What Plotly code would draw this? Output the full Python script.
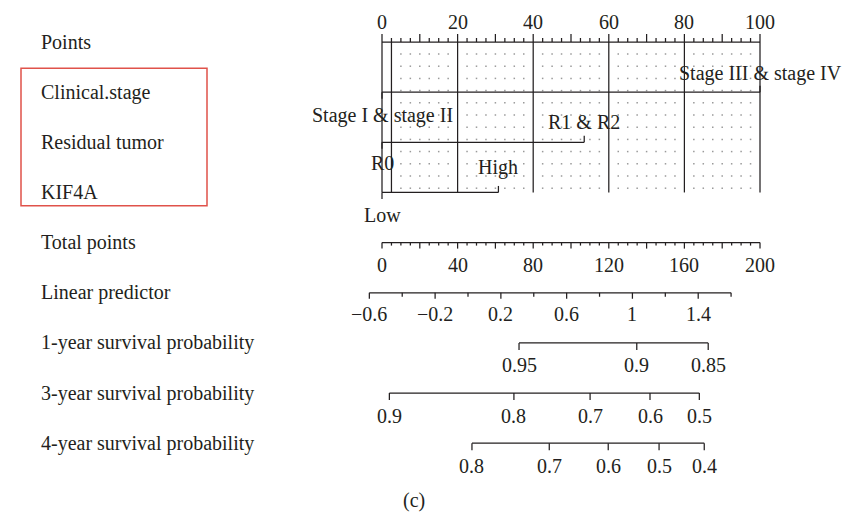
import numpy as np
import plotly.graph_objects as go

# ---------------- nomogram content ----------------
row_labels = ["Points", "Clinical.stage", "Residual tumor", "KIF4A", "Total points",
              "Linear predictor", "1-year survival probability",
              "3-year survival probability", "4-year survival probability"]

points_ticks = [0, 20, 40, 60, 80, 100]

stage_levels = ["Stage I & stage II", "Stage III & stage IV"]
stage_points = [0, 100]
residual_levels = ["R0", "R1 & R2"]
residual_points = [0, 53.5]
kif4a_levels = ["Low", "High"]
kif4a_points = [0, 30.8]

total_ticks = [0, 40, 80, 120, 160, 200]

lp_labels = [-0.6, -0.2, 0.2, 0.6, 1, 1.4]
lp_all_ticks = [-0.6, -0.4, -0.2, 0.0, 0.2, 0.4, 0.6, 0.8, 1.0, 1.2, 1.4, 1.6]
lp_intercept = 45.5   # total points at linear predictor 0
lp_slope = 87.0       # total points per unit of linear predictor

surv1_labels = ["0.95", "0.9", "0.85"]
surv1_total = [72.5, 134.8, 172.6]
surv3_labels = ["0.9", "0.8", "0.7", "0.6", "0.5"]
surv3_total = [3.9, 69.8, 110.1, 141.8, 167.9]
surv4_labels = ["0.8", "0.7", "0.6", "0.5", "0.4"]
surv4_total = [47.6, 88.5, 119.7, 146.6, 170.5]

# ---------------- layout constants ----------------
W, H = 848, 515
PX0 = 382.0          # pixel position of 0 points
PX_PER_PT = 3.78     # pixels per point
ROW_Y0, ROW_STEP = 42.0, 50.15
FONT = "Liberation Serif"
INK = "#231f20"
LW = 1.25
TXT_DY = 0.0

row_y = [ROW_Y0 + ROW_STEP * i for i in range(len(row_labels))]


def pt_of_total(tp):
    return tp / 2.0


def pt_of_lp(lp):
    return pt_of_total(lp_intercept + lp_slope * lp)


def fmt_lp(v):
    s = f"{v:g}"
    return s.replace("-", "\u2212")


seg_x, seg_y = [], []


def seg(x0, y0, x1, y1):
    seg_x.extend([x0, x1, None])
    seg_y.extend([y0, y1, None])


annotations = []


def label(x, y, text, anchor="center"):
    annotations.append(dict(x=x, y=y + TXT_DY, xref="x", yref="y", text=text,
                            showarrow=False, xanchor=anchor, yanchor="middle",
                            font=dict(family=FONT, size=20, color=INK)))


# row titles on the left
x_left = (38.5 - PX0) / PX_PER_PT
for name, y in zip(row_labels, row_y):
    label(x_left, y, name, anchor="left")

# Points scale (ticks point upward)
y = row_y[0]
seg(0, y, 100, y)
for v in np.arange(0, 100.01, 2.5):
    ln = 8 if abs(v % 10) < 1e-9 else 4
    seg(v, y, v, y - ln)
for v in points_ticks:
    label(v, y - 20.3, str(v))

# vertical reference lines through the predictor rows
y_bottom = row_y[3]
for v in [0, 2.5, 20, 40, 60, 80, 100]:
    seg(v, y, v, y_bottom)

# dotted minor grid
dot_cols = [v for v in np.arange(5, 100, 2.5) if abs(v % 20) > 1e-9]
dot_rows = [54 + 12.2 * k for k in range(12)]
dx = [c for c in dot_cols for _ in dot_rows]
dy = [r for _ in dot_cols for r in dot_rows]


def predictor(levels, pts, y, offsets):
    seg(min(pts), y, max(pts), y)
    for lv, p, off in zip(levels, pts, offsets):
        direction = -1 if off < 0 else 1
        seg(p, y, p, y + 6.5 * direction)
        label(p, y + off, lv)


predictor(stage_levels, stage_points, row_y[1], [23, -18.8])
predictor(residual_levels, residual_points, row_y[2], [21, -20.6])
predictor(kif4a_levels, kif4a_points, row_y[3], [22.5, -24.5])

# Total points scale (ticks hang down)
y = row_y[4]
seg(0, y, 100, y)
for v in np.arange(0, 200.01, 5):
    ln = 6 if abs(v % 20) < 1e-9 else 3
    seg(pt_of_total(v), y, pt_of_total(v), y + ln)
for v in total_ticks:
    label(pt_of_total(v), y + 22.4, str(v))

# Linear predictor scale
y = row_y[5]
seg(pt_of_lp(lp_all_ticks[0]), y, pt_of_lp(lp_all_ticks[-1]), y)
for v in lp_all_ticks:
    labelled = any(abs(v - l) < 1e-9 for l in lp_labels)
    ln = 6 if labelled else 4
    seg(pt_of_lp(v), y, pt_of_lp(v), y + ln)
for v in lp_labels:
    label(pt_of_lp(v), y + 21, fmt_lp(v))

# survival probability scales
for labs, tots, y, off in [(surv1_labels, surv1_total, row_y[6], 22),
                           (surv3_labels, surv3_total, row_y[7], 23),
                           (surv4_labels, surv4_total, row_y[8], 23)]:
    xs = [pt_of_total(t) for t in tots]
    seg(min(xs), y, max(xs), y)
    for xv, lab in zip(xs, labs):
        seg(xv, y, xv, y + 7)
        label(xv, y + off, lab)

# panel tag
label((414 - PX0) / PX_PER_PT, 500, "(c)")

fig = go.Figure()
fig.add_trace(go.Scatter(x=dx, y=dy, mode="markers",
                         marker=dict(symbol="square", size=1.5, color="#9a9a9a",
                                     line=dict(width=0)),
                         hoverinfo="skip"))
fig.add_trace(go.Scatter(x=seg_x, y=seg_y, mode="lines",
                         line=dict(color=INK, width=LW), hoverinfo="skip"))

# red frame around the predictor names
fig.add_shape(type="rect", xref="paper", yref="paper",
              x0=21 / W, x1=207 / W, y0=1 - 205.7 / H, y1=1 - 68.3 / H,
              line=dict(color="#e0524a", width=1.5))

fig.update_layout(
    width=W, height=H, margin=dict(l=0, r=0, t=0, b=0),
    paper_bgcolor="white", plot_bgcolor="white", showlegend=False,
    xaxis=dict(range=[-PX0 / PX_PER_PT, (W - PX0) / PX_PER_PT], visible=False, fixedrange=True),
    yaxis=dict(range=[H, 0], visible=False, fixedrange=True),
    annotations=annotations,
)
fig.write_html("out.html")
